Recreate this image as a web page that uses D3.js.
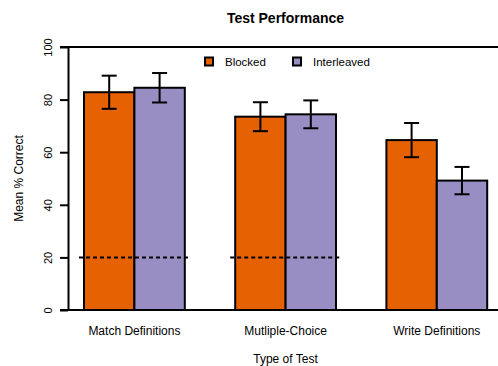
<!DOCTYPE html>
<html><head><meta charset="utf-8">
<script src="https://cdn.jsdelivr.net/npm/d3@7"></script>
<style>body{margin:0;background:#fff}svg{display:block}text{font-family:"Liberation Sans",Arial,Helvetica,sans-serif}</style>
</head><body><svg width="498" height="366"></svg>
<script>
const categories = ["Match Definitions", "Mutliple-Choice", "Write Definitions"];
const seriesNames = ["Blocked", "Interleaved"];
const blocked = [82.8, 73.5, 64.6];
const interleaved = [84.5, 74.4, 49.2];
const blockedErr = [6.3, 5.5, 6.5];
const interleavedErr = [5.6, 5.3, 5.2];
const chanceLevel = [20, 20, null];
const yTicks = [0, 20, 40, 60, 80, 100];
const colors = ["#e66101", "#998ec3"];

const svg = d3.select("svg");
const y = d3.scaleLinear().domain([0, 100]).range([310, 47]);
const x = d3.scaleBand().domain(categories).range([58.8, 512.4]).paddingInner(1/3).paddingOuter(1/6);
const xs = d3.scaleBand().domain(seriesNames).range([0, x.bandwidth()]);

const rows = [];
categories.forEach((c, i) => {
  rows.push({cat: c, s: seriesNames[0], v: blocked[i], e: blockedErr[i], col: colors[0]});
  rows.push({cat: c, s: seriesNames[1], v: interleaved[i], e: interleavedErr[i], col: colors[1]});
});

// bars
svg.append("g").selectAll("rect").data(rows).join("rect")
  .attr("x", d => x(d.cat) + xs(d.s))
  .attr("y", d => y(d.v))
  .attr("width", xs.bandwidth())
  .attr("height", d => y(0) - y(d.v))
  .attr("fill", d => d.col)
  .attr("stroke", "#000").attr("stroke-width", 2);

// chance lines
svg.append("g").selectAll("line").data(categories.map((c, i) => ({c, v: chanceLevel[i]})).filter(d => d.v != null))
  .join("line")
  .attr("x1", d => x(d.c) - 5).attr("x2", d => x(d.c) + x.bandwidth() + 5)
  .attr("y1", d => y(d.v)).attr("y2", d => y(d.v))
  .attr("stroke", "#000").attr("stroke-width", 2).attr("stroke-dasharray", "4,3");

// error bars
const eb = svg.append("g").attr("stroke", "#000").attr("stroke-width", 2).attr("fill", "none");
rows.forEach(d => {
  const cx = x(d.cat) + xs(d.s) + xs.bandwidth() / 2;
  eb.append("line").attr("x1", cx).attr("x2", cx).attr("y1", y(d.v + d.e)).attr("y2", y(d.v - d.e));
  eb.append("line").attr("x1", cx - 7.5).attr("x2", cx + 7.5).attr("y1", y(d.v + d.e)).attr("y2", y(d.v + d.e));
  eb.append("line").attr("x1", cx - 7.5).attr("x2", cx + 7.5).attr("y1", y(d.v - d.e)).attr("y2", y(d.v - d.e));
});

// y axis
const yAxis = svg.append("g").attr("transform", "translate(68,0)")
  .call(d3.axisLeft(y).tickValues(yTicks).tickSize(8).tickSizeOuter(0).tickPadding(0));
yAxis.select(".domain").attr("stroke-width", 2);
yAxis.selectAll(".tick line").attr("stroke-width", 2);
yAxis.selectAll(".tick text").attr("font-size", 11).attr("fill", "#000")
  .attr("transform", "translate(-16,0) rotate(-90)").attr("text-anchor", "middle").attr("x", 0).attr("dy", 0).attr("y", 0);

// top and bottom lines
svg.append("line").attr("x1", 60).attr("x2", 498).attr("y1", y(100)).attr("y2", y(100)).attr("stroke", "#000").attr("stroke-width", 2);
svg.append("line").attr("x1", 60).attr("x2", 498).attr("y1", y(0)).attr("y2", y(0)).attr("stroke", "#000").attr("stroke-width", 2);

// x labels
svg.append("g").selectAll("text").data(categories).join("text")
  .attr("x", d => x(d) + x.bandwidth() / 2).attr("y", 335)
  .attr("text-anchor", "middle").attr("font-size", 12).text(d => d);

// titles
svg.append("text").attr("x", 285.5).attr("y", 23).attr("text-anchor", "middle")
  .attr("font-size", 14).attr("font-weight", "bold").text("Test Performance");
svg.append("text").attr("x", 285.5).attr("y", 363).attr("text-anchor", "middle")
  .attr("font-size", 12).text("Type of Test");
svg.append("text").attr("transform", "translate(23,178.5) rotate(-90)").attr("text-anchor", "middle")
  .attr("font-size", 12).text("Mean % Correct");

// legend
const legX = [205, 293];
seriesNames.forEach((s, i) => {
  svg.append("rect").attr("x", legX[i]).attr("y", 57.5).attr("width", 8).attr("height", 8)
    .attr("fill", colors[i]).attr("stroke", "#000").attr("stroke-width", 2);
  svg.append("text").attr("x", legX[i] + 20).attr("y", 66).attr("font-size", 11.5).text(s);
});
</script></body></html>
